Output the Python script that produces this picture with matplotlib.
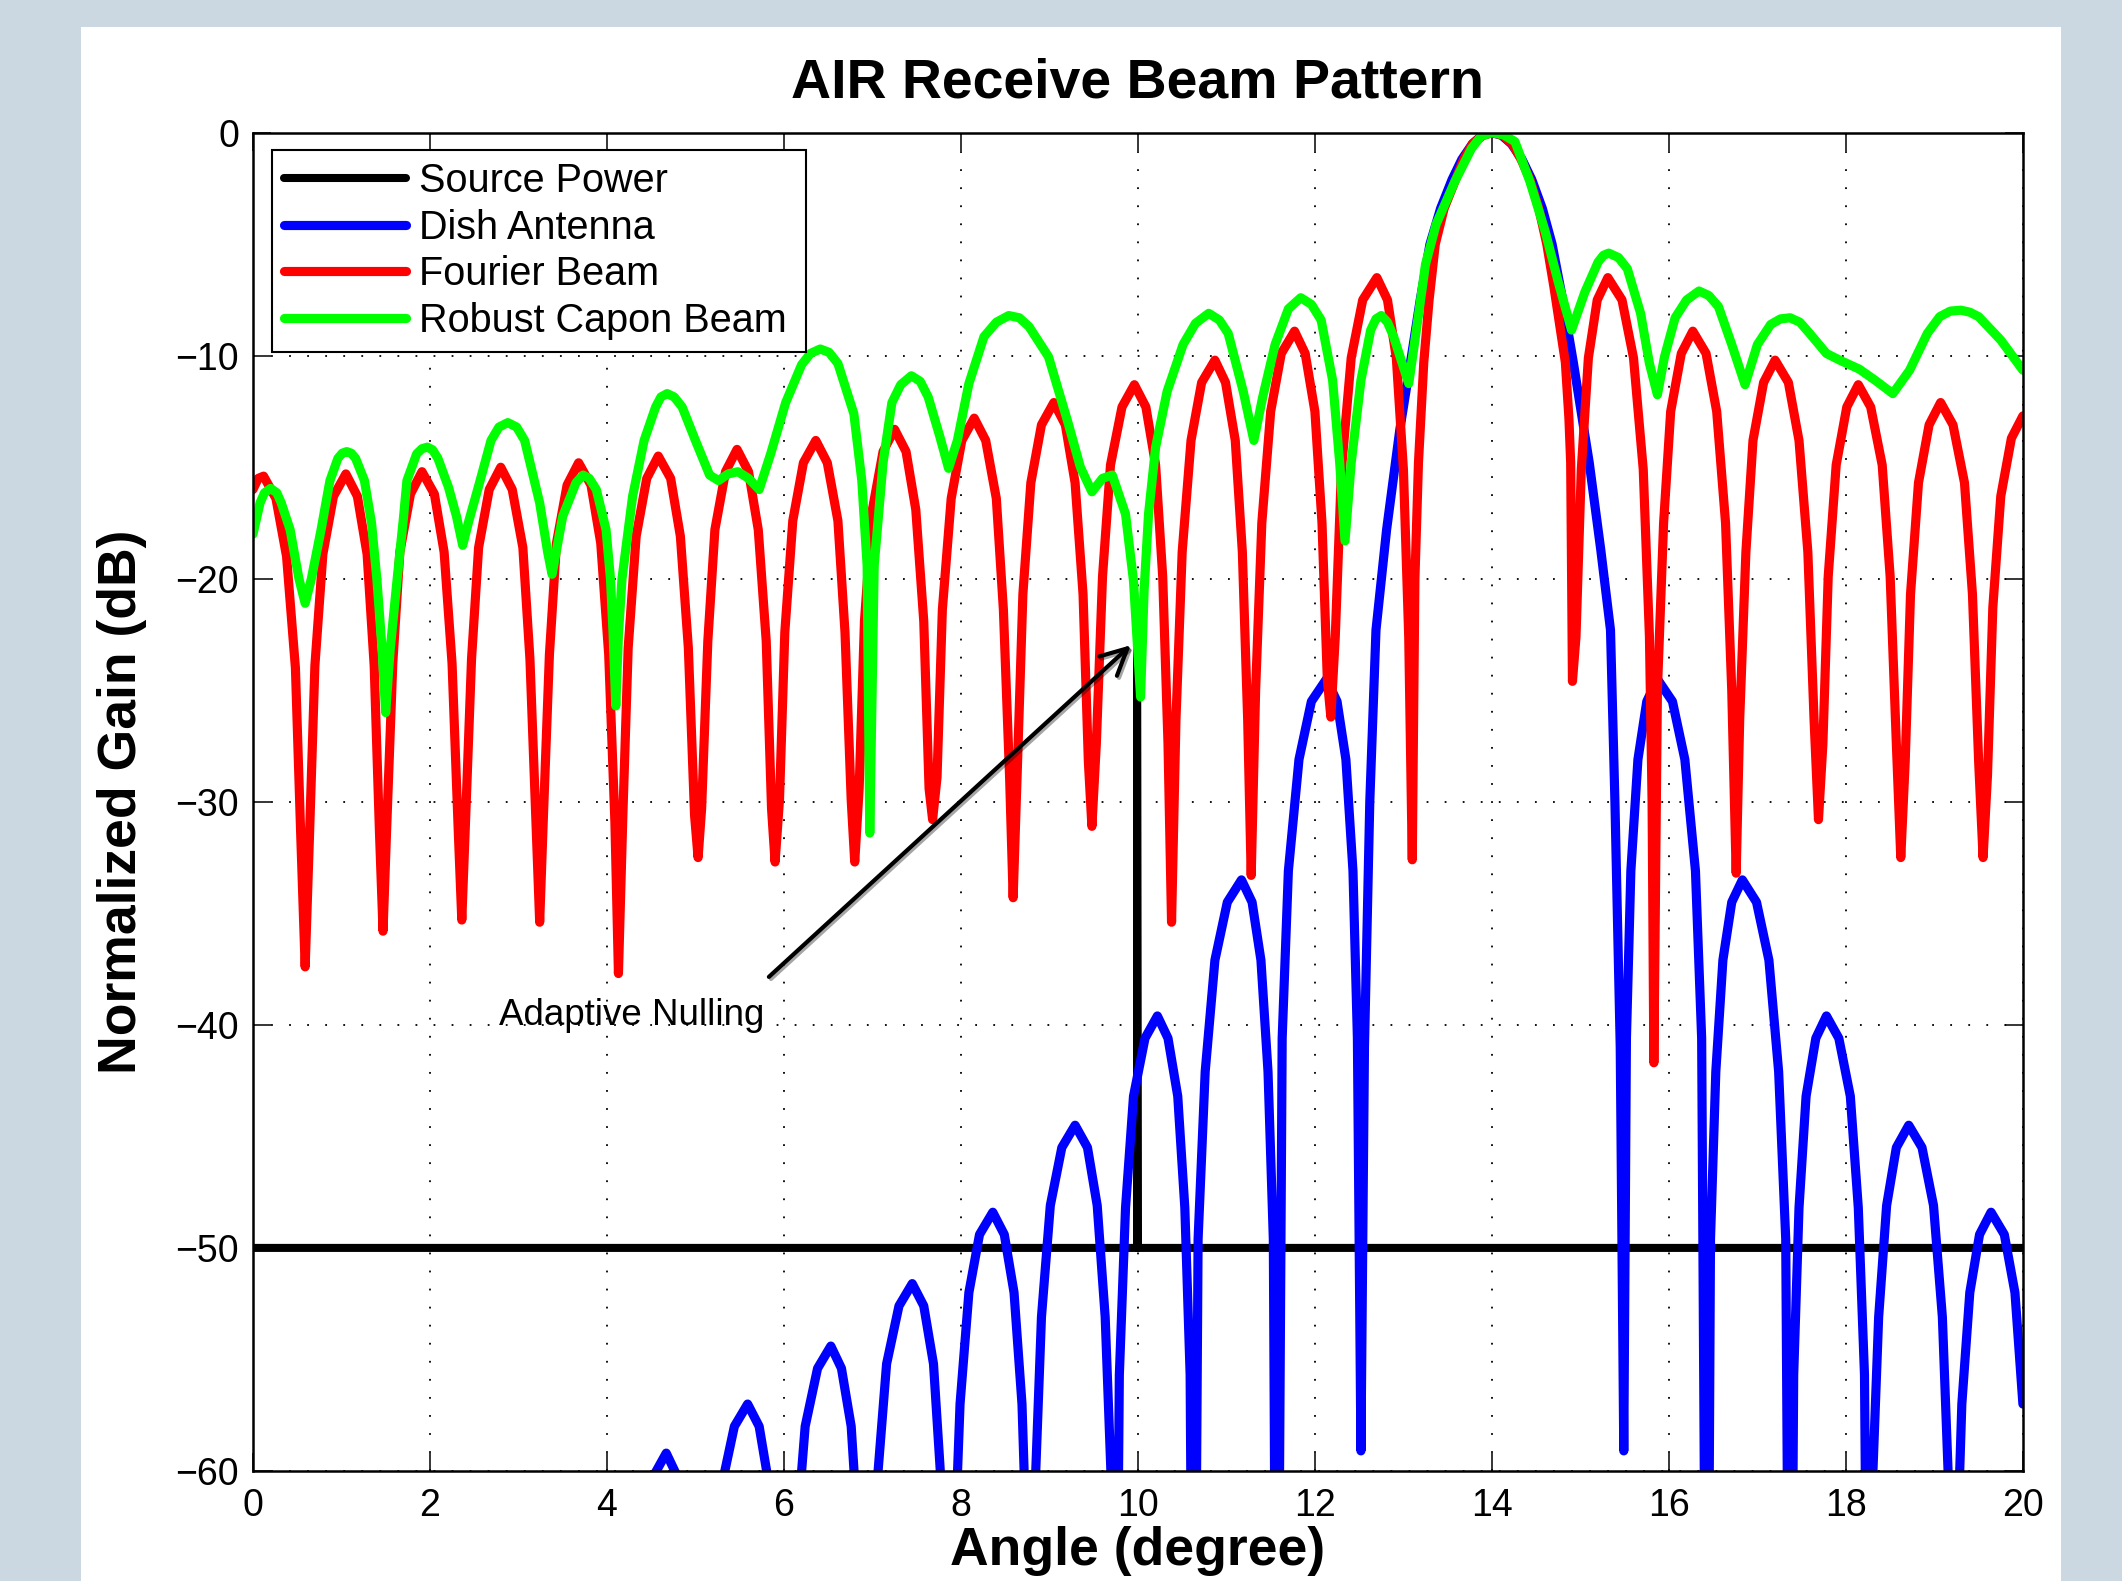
import matplotlib.pyplot as plt
import matplotlib.patheffects as pe
from matplotlib.patches import Rectangle

# MATLAB-like look: Helvetica-style font, thick lines
plt.rcParams.update({
    'font.family': ['Liberation Sans', 'DejaVu Sans'],
    'font.size': 27,
    'axes.linewidth': 1.8,
})

# ---- data (angle in degree, gain in dB) ----
source_x = [0.0, 9.99, 9.99, 10.0, 20.0]
source_y = [-50.0, -50.0, -22.0, -50.0, -50.0]

dish_x = [4.20, 4.25, 4.31, 4.41, 4.53, 4.67, 4.79, 4.90, 4.98, 5.04,
          5.08, 5.13, 5.20, 5.30, 5.44, 5.59, 5.72, 5.83, 5.92, 5.98,
          6.02, 6.07, 6.14, 6.24, 6.38, 6.53, 6.65, 6.76, 6.84, 6.90,
          6.94, 6.99, 7.06, 7.16, 7.30, 7.45, 7.58, 7.69, 7.77, 7.83,
          7.87, 7.92, 7.99, 8.09, 8.21, 8.36, 8.49, 8.60, 8.69, 8.75,
          8.79, 8.84, 8.91, 9.01, 9.14, 9.29, 9.43, 9.54, 9.63, 9.70,
          9.74, 9.79, 9.86, 9.95, 10.08, 10.22, 10.34, 10.45, 10.53, 10.59,
          10.63, 10.68, 10.76, 10.87, 11.01, 11.17, 11.29, 11.39, 11.47, 11.53,
          11.57, 11.63, 11.70, 11.82, 11.96, 12.13, 12.25, 12.35, 12.43, 12.48,
          12.52, 12.56, 12.62, 12.69, 12.81, 12.96, 13.08, 13.19, 13.30, 13.42,
          13.55, 13.66, 13.78, 13.89, 14.00, 14.11, 14.22, 14.34, 14.45, 14.57,
          14.68, 14.80, 14.92, 15.10, 15.23, 15.34, 15.39, 15.45, 15.49,
          15.52, 15.57, 15.65, 15.75, 15.87, 16.04, 16.18, 16.30, 16.37,
          16.43, 16.47, 16.53, 16.61, 16.71, 16.83, 16.99, 17.13, 17.24, 17.32,
          17.37, 17.41, 17.47, 17.55, 17.66, 17.78, 17.92, 18.05, 18.14, 18.21,
          18.26, 18.30, 18.37, 18.46, 18.57, 18.71, 18.86, 18.99, 19.09, 19.16,
          19.21, 19.25, 19.31, 19.40, 19.51, 19.64, 19.79, 19.91, 20.00]
dish_y = [-80, -75.3, -67.8, -62.8, -60.2, -59.2, -60.2, -62.8, -67.8, -75.3,
          -80, -73.1, -65.6, -60.6, -58.0, -57.0, -58.0, -60.6, -65.6, -73.1,
          -80, -70.5, -63.0, -58.0, -55.4, -54.4, -55.4, -58.0, -63.0, -70.5,
          -80, -67.7, -60.2, -55.2, -52.6, -51.6, -52.6, -55.2, -60.2, -67.7,
          -80, -64.5, -57.0, -52.0, -49.4, -48.4, -49.4, -52.0, -57.0, -64.5,
          -80, -60.6, -53.1, -48.1, -45.5, -44.5, -45.5, -48.1, -53.1, -60.6,
          -80, -55.7, -48.2, -43.2, -40.6, -39.6, -40.6, -43.2, -48.2, -55.7,
          -80, -49.6, -42.1, -37.1, -34.5, -33.5, -34.5, -37.1, -42.1, -49.6,
          -80, -40.6, -33.1, -28.1, -25.5, -24.5, -25.5, -28.1, -33.1, -40.6,
          -59.1, -41.0, -30.0, -22.3, -17.8, -13.3, -10.3, -7.5, -5.0, -3.4,
          -2.1, -1.2, -0.5, -0.12, 0.0, -0.12, -0.5, -1.2, -2.1, -3.4,
          -5.0, -7.5, -10.3, -14.8, -18.7, -22.3, -30.0, -41.0, -59.1,
          -40.6, -33.1, -28.1, -25.5, -24.5, -25.5, -28.1, -33.1, -40.6,
          -80, -49.6, -42.1, -37.1, -34.5, -33.5, -34.5, -37.1, -42.1, -49.6,
          -80, -55.7, -48.2, -43.2, -40.6, -39.6, -40.6, -43.2, -48.2, -55.7,
          -80, -60.6, -53.1, -48.1, -45.5, -44.5, -45.5, -48.1, -53.1, -60.6,
          -80, -64.5, -57.0, -52.0, -49.4, -48.4, -49.4, -52.0, -57.0]

fourier_x = [0.00, 0.06, 0.12, 0.26, 0.38, 0.48, 0.54, 0.59,
             0.64, 0.70, 0.79, 0.91, 1.05, 1.18, 1.29, 1.37, 1.43, 1.47,
             1.51, 1.58, 1.66, 1.78, 1.91, 2.05, 2.16, 2.25, 2.32, 2.36,
             2.40, 2.47, 2.55, 2.67, 2.80, 2.93, 3.05, 3.13, 3.20, 3.24,
             3.28, 3.35, 3.43, 3.55, 3.68, 3.82, 3.93, 4.02, 4.09, 4.13,
             4.18, 4.24, 4.33, 4.45, 4.58, 4.72, 4.83, 4.92, 4.99, 5.03,
             5.07, 5.14, 5.22, 5.34, 5.47, 5.60, 5.71, 5.80, 5.86, 5.90,
             5.95, 6.01, 6.10, 6.22, 6.36, 6.49, 6.61, 6.69, 6.76, 6.80,
             6.85, 6.91, 7.00, 7.12, 7.25, 7.38, 7.49, 7.58, 7.64, 7.68,
             7.73, 7.79, 7.89, 8.01, 8.15, 8.28, 8.40, 8.48, 8.55, 8.59,
             8.64, 8.70, 8.79, 8.91, 9.05, 9.18, 9.29, 9.38, 9.44, 9.48,
             9.53, 9.60, 9.69, 9.82, 9.96, 10.09, 10.20, 10.28, 10.34, 10.38,
             10.43, 10.50, 10.60, 10.72, 10.87, 10.99, 11.10, 11.18, 11.24, 11.28,
             11.33, 11.40, 11.50, 11.62, 11.77, 11.89, 12.00, 12.08, 12.14, 12.18,
             12.23, 12.30, 12.41, 12.54, 12.70, 12.82, 12.92, 13.00, 13.06, 13.10,
             13.13, 13.17, 13.23, 13.29, 13.36, 13.46, 13.59, 13.68, 13.78, 13.90,
             14.01, 14.12, 14.23, 14.33, 14.43, 14.53, 14.62, 14.70, 14.78, 14.83,
             14.87, 14.89, 14.91,
             14.95, 15.01, 15.09, 15.19, 15.31, 15.47, 15.60, 15.71, 15.78, 15.81, 15.83,
             15.87, 15.94, 16.02, 16.14, 16.27, 16.42, 16.54, 16.64, 16.71, 16.76,
             16.80, 16.87, 16.95, 17.07, 17.20, 17.35, 17.47, 17.57, 17.64, 17.69,
             17.74, 17.80, 17.89, 18.01, 18.14, 18.28, 18.41, 18.50, 18.57, 18.62,
             18.67, 18.73, 18.82, 18.94, 19.07, 19.21, 19.34, 19.43, 19.50, 19.55,
             19.60, 19.66, 19.75, 19.87, 20.00]
fourier_y = [-16.0, -15.5, -15.4, -16.4, -19.0, -24.0, -31.5, -37.4,
             -31.4, -23.9, -18.9, -16.3, -15.3, -16.3, -18.9, -23.9, -31.4, -35.8,
             -31.3, -23.8, -18.8, -16.2, -15.2, -16.2, -18.8, -23.8, -31.3, -35.3,
             -31.1, -23.6, -18.6, -16.0, -15.0, -16.0, -18.6, -23.6, -31.1, -35.4,
             -30.9, -23.4, -18.4, -15.8, -14.8, -15.8, -18.4, -23.4, -30.9, -37.7,
             -30.6, -23.1, -18.1, -15.5, -14.5, -15.5, -18.1, -23.1, -30.6, -32.5,
             -30.3, -22.8, -17.8, -15.2, -14.2, -15.2, -17.8, -22.8, -30.3, -32.7,
             -29.9, -22.4, -17.4, -14.8, -13.8, -14.8, -17.4, -22.4, -29.9, -32.7,
             -29.4, -21.9, -16.9, -14.3, -13.3, -14.3, -16.9, -21.9, -29.4, -30.8,
             -28.9, -21.4, -16.4, -13.8, -12.8, -13.8, -16.4, -21.4, -28.9, -34.3,
             -28.2, -20.7, -15.7, -13.1, -12.1, -13.1, -15.7, -20.7, -28.2, -31.1,
             -27.4, -19.9, -14.9, -12.3, -11.3, -12.3, -14.9, -19.9, -27.4, -35.4,
             -26.3, -18.8, -13.8, -11.2, -10.2, -11.2, -13.8, -18.8, -26.3, -33.3,
             -25.0, -17.5, -12.5, -9.9, -8.9, -9.9, -12.5, -17.5, -24.5, -26.2,
             -22.6, -15.1, -10.1, -7.5, -6.5, -7.5, -10.1, -15.1, -22.6, -32.6,
             -20.0, -14.8, -10.3, -7.5, -5.0, -3.4, -2.1, -1.2, -0.5, -0.12,
             0.0, -0.12, -0.5, -1.2, -2.1, -3.4, -5.0, -6.9, -9.0, -10.3,
             -12.8, -14.8, -24.6,
             -22.6, -15.1, -10.1, -7.5, -6.5, -7.5, -10.1, -15.1, -22.6, -30.0, -41.7,
             -25.0, -17.5, -12.5, -9.9, -8.9, -9.9, -12.5, -17.5, -25.0, -33.2,
             -26.3, -18.8, -13.8, -11.2, -10.2, -11.2, -13.8, -18.8, -26.3, -30.8,
             -27.4, -19.9, -14.9, -12.3, -11.3, -12.3, -14.9, -19.9, -27.4, -32.5,
             -28.2, -20.7, -15.7, -13.1, -12.1, -13.1, -15.7, -20.7, -28.2, -32.5,
             -28.8, -21.3, -16.3, -13.7, -12.7]

capon_x = [0.00, 0.08, 0.13, 0.20, 0.27, 0.32, 0.42, 0.52, 0.59, 0.66, 0.77, 0.87,
           0.96, 1.01, 1.06, 1.11, 1.16, 1.26, 1.34, 1.40, 1.46, 1.50, 1.55, 1.63,
           1.70, 1.74, 1.85, 1.91, 1.97, 2.03, 2.09, 2.21, 2.30, 2.37, 2.44, 2.56,
           2.69, 2.78, 2.88, 2.98, 3.07, 3.24, 3.33, 3.38, 3.50, 3.65, 3.73, 3.80,
           3.88, 3.99, 4.04, 4.07, 4.10, 4.13, 4.17, 4.29, 4.42, 4.55, 4.61, 4.68,
           4.76, 4.85, 5.00, 5.16, 5.26, 5.37, 5.48, 5.60, 5.72, 5.85, 6.02, 6.20,
           6.30, 6.41, 6.51, 6.61, 6.79, 6.88, 6.94, 6.97, 7.02, 7.12, 7.22, 7.32,
           7.44, 7.54, 7.63, 7.76, 7.86, 7.96, 8.09, 8.26, 8.40, 8.54, 8.66, 8.77,
           8.99, 9.21, 9.35, 9.48, 9.60, 9.71, 9.86, 9.95, 10.03, 10.07, 10.12,
           10.20, 10.33, 10.51, 10.65, 10.80, 10.92, 11.02, 11.19, 11.31, 11.41,
           11.55, 11.70, 11.84, 11.96, 12.07, 12.20, 12.28, 12.34, 12.41, 12.52,
           12.63, 12.69, 12.75, 12.82, 12.89, 13.06, 13.13, 13.25, 13.37, 13.58,
           13.77, 13.88, 14.00, 14.13, 14.26, 14.43, 14.60, 14.75, 14.90, 15.05,
           15.20, 15.26, 15.32, 15.43, 15.53, 15.68, 15.78, 15.87, 15.95, 16.07,
           16.20, 16.34, 16.45, 16.56, 16.71, 16.86, 17.00, 17.15, 17.26, 17.37,
           17.48, 17.59, 17.78, 17.93, 18.15, 18.33, 18.53, 18.72, 18.92, 19.06,
           19.18, 19.30, 19.40, 19.50, 19.75, 20.00]
capon_y = [-18.0, -16.6, -16.15, -15.95, -16.15, -16.6, -17.8, -20.0, -21.1, -20.0, -17.8, -15.6,
           -14.6, -14.37, -14.3, -14.37, -14.6, -15.6, -17.5, -20.0, -23.2, -26.0, -23.2, -20.0,
           -17.3, -15.6, -14.4, -14.17, -14.1, -14.22, -14.6, -15.9, -17.2, -18.5, -17.4, -15.7,
           -13.8, -13.2, -13.0, -13.2, -13.8, -16.6, -18.8, -19.8, -17.2, -15.7, -15.35, -15.5,
           -16.0, -17.8, -20.0, -22.5, -25.7, -22.5, -20.0, -16.3, -13.8, -12.3, -11.85, -11.7,
           -11.85, -12.3, -13.8, -15.35, -15.6, -15.3, -15.2, -15.5, -16.0, -14.4, -12.1, -10.4,
           -9.9, -9.7, -9.85, -10.35, -12.6, -15.6, -19.4, -31.4, -19.4, -14.8, -12.1, -11.3,
           -10.9, -11.15, -11.85, -13.6, -15.05, -13.8, -11.25, -9.15, -8.5, -8.2, -8.3, -8.7,
           -10.05, -13.0, -15.0, -16.1, -15.5, -15.35, -17.1, -20.1, -25.3, -20.5, -17.1,
           -14.1, -11.6, -9.5, -8.55, -8.1, -8.4, -9.0, -11.6, -13.8, -11.85,
           -9.5, -7.9, -7.4, -7.7, -8.4, -11.1, -14.8, -18.3, -14.8, -11.1,
           -8.85, -8.35, -8.2, -8.5, -9.15, -11.25, -9.3, -5.9, -4.1, -2.2,
           -0.7, -0.15, 0.0, -0.1, -0.4, -2.2, -4.4, -6.7, -8.85, -7.15,
           -5.8, -5.5, -5.4, -5.6, -6.1, -8.1, -10.35, -11.75, -10.05, -8.3,
           -7.5, -7.1, -7.3, -7.8, -9.5, -11.3, -9.5, -8.6, -8.35, -8.3,
           -8.5, -9.0, -9.9, -10.2, -10.6, -11.1, -11.7, -10.65, -9.0, -8.25,
           -8.0, -7.96, -8.05, -8.25, -9.3, -10.65]

series_labels = ['Source Power', 'Dish Antenna', 'Fourier Beam', 'Robust Capon Beam']
x_ticks = list(range(0, 21, 2))
y_ticks = list(range(-60, 1, 10))

# ---- figure: grey-blue backdrop with a white panel ----
fig = plt.figure(figsize=(21.22, 15.81), dpi=100, facecolor='#cbd8e1')
fig.patches.append(Rectangle((81 / 2122, 0), 1980 / 2122, 1554 / 1581,
                             transform=fig.transFigure, facecolor='white',
                             edgecolor='none', zorder=-10))
ax = fig.add_axes([0.1192, 0.0696, 0.8341, 0.8465])
ax.set_zorder(1)

line_kw = dict(solid_joinstyle='round', solid_capstyle='round')
ax.plot(source_x, source_y, color='black', lw=5.8, label=series_labels[0], **line_kw)
ax.plot(dish_x, dish_y, color='#0000ff', lw=6.6, label=series_labels[1], **line_kw)
ax.plot(fourier_x, fourier_y, color='#ff0000', lw=6.6, label=series_labels[2], **line_kw)
ax.plot(capon_x, capon_y, color='#00ff00', lw=6.6, label=series_labels[3], **line_kw)

# annotation for the adaptive null
ax.annotate('', xy=(9.92, -22.98), xytext=(5.83, -37.85),
            arrowprops=dict(arrowstyle='->,head_length=0.7,head_width=0.35',
                            color='black', lw=3, shrinkA=0, shrinkB=0,
                            mutation_scale=27,
                            path_effects=[pe.SimpleLineShadow(offset=(1.5, -1.5), alpha=0.35),
                                          pe.Normal()]))
ax.text(2.78, -40.02, 'Adaptive Nulling', fontsize=26.5, ha='left', va='baseline')

# axes styling
ax.set_xlim(0, 20)
ax.set_ylim(-60, 0)
ax.set_xticks(x_ticks)
ax.set_yticks(y_ticks)
ax.tick_params(direction='in', length=13, width=1.1, top=True, right=True, labelsize=27)
ax.tick_params(axis='x', pad=12)
ax.tick_params(axis='y', pad=10)
ax.grid(True, color='black', linestyle=(0, (1, 9)), linewidth=1.3)
ax.set_axisbelow(True)

ax.set_title('AIR Receive Beam Pattern', fontsize=40, fontweight='bold', pad=25)
ax.set_xlabel('Angle (degree)', fontsize=38.5, fontweight='bold')
ax.set_ylabel('Normalized Gain (dB)', fontsize=38.5, fontweight='bold')
ax.xaxis.set_label_coords(0.5, -0.041)
ax.yaxis.set_label_coords(-0.060, 0.5)

leg = ax.legend(loc='upper left', bbox_to_anchor=(0.0107, 0.5, 0.302, 0.487),
                mode='expand', borderaxespad=0,
                fontsize=28.5, fancybox=False, edgecolor='black', framealpha=1,
                borderpad=0.3, labelspacing=0.22, handlelength=3.08, handletextpad=0.34)
leg.get_frame().set_linewidth(1.5)

fig.savefig('out.png', dpi=100, facecolor=fig.get_facecolor())
